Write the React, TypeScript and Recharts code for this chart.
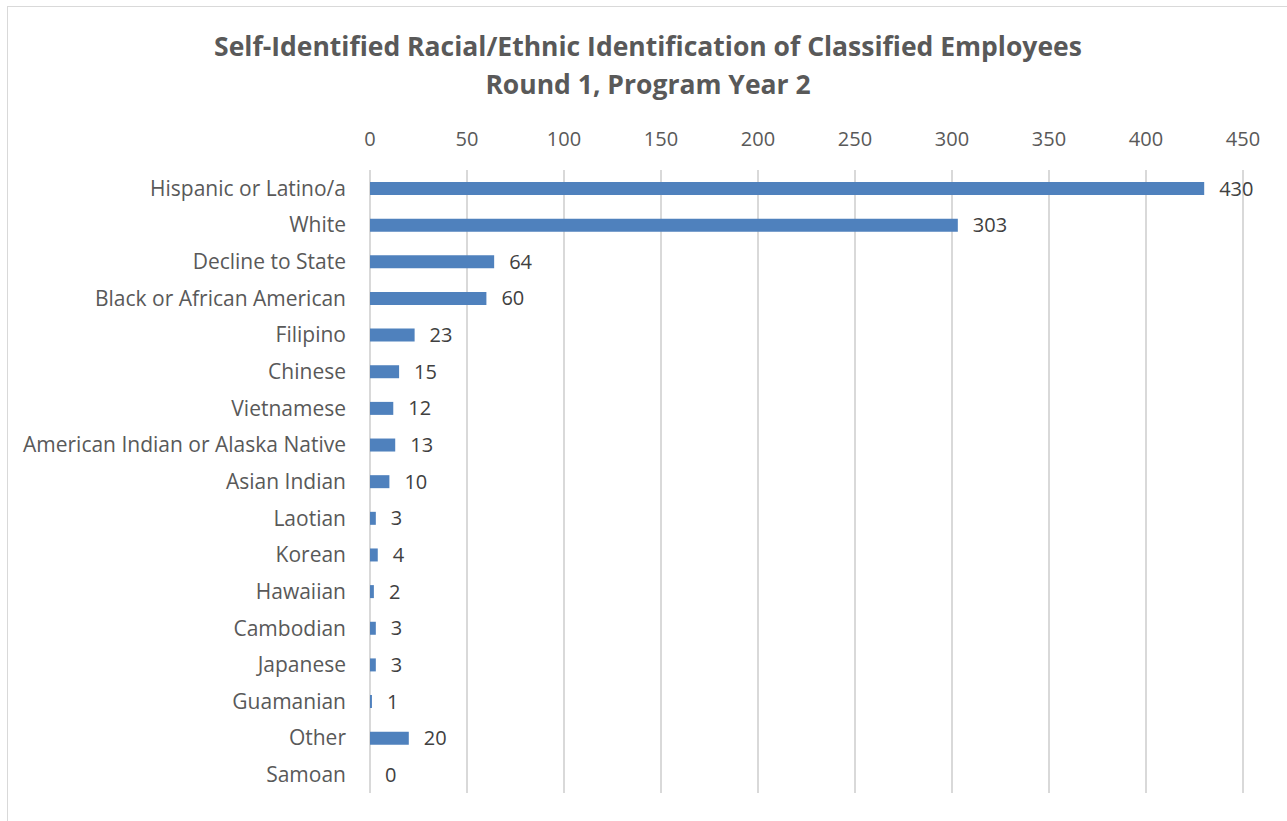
import { BarChart, Bar, XAxis, YAxis, CartesianGrid, LabelList } from "recharts";

// categories, top to bottom as in the source
const categories = [
  "Hispanic or Latino/a",
  "White",
  "Decline to State",
  "Black or African American",
  "Filipino",
  "Chinese",
  "Vietnamese",
  "American Indian or Alaska Native",
  "Asian Indian",
  "Laotian",
  "Korean",
  "Hawaiian",
  "Cambodian",
  "Japanese",
  "Guamanian",
  "Other",
  "Samoan",
];

const counts = [430, 303, 64, 60, 23, 15, 12, 13, 10, 3, 4, 2, 3, 3, 1, 20, 0];

const xTicks = [0, 50, 100, 150, 200, 250, 300, 350, 400, 450];

const titleLines = [
  "Self-Identified Racial/Ethnic Identification of Classified Employees",
  "Round 1, Program Year 2",
];

const FONT = "'Open Sans', sans-serif";

// value label drawn right of the bar end (also for zero-length bars)
const ValueLabel = (props: any) => {
  const { x, y, width, height, value } = props;
  const w = Number(width) >= 1 ? Number(width) : 0;
  const bx = Number(x) + w + 15;
  const by = Number(y) + Number(height) / 2;
  return (
    <text
      x={bx}
      y={by}
      dy="0.35em"
      fill="#404040"
      fontSize={20}
      fontFamily={FONT}
      textAnchor="start"
    >
      {String(value)}
    </text>
  );
};

const App = () => {
  const data = categories.map((name, i) => ({ name, value: counts[i] }));

  return (
    <div
      style={{
        position: "absolute",
        left: 0,
        top: 0,
        width: 1287,
        height: 821,
        background: "#fff",
        fontFamily: FONT,
      }}
    >
      {/* outer chart frame */}
      <div
        style={{
          position: "absolute",
          left: 7,
          top: 6,
          width: 1290,
          height: 830,
          border: "1px solid #d9d9d9",
        }}
      />
      <div
        style={{
          position: "absolute",
          left: 0,
          top: 27,
          width: 1296,
          textAlign: "center",
          color: "#595959",
          fontWeight: 700,
          fontSize: 26.5,
          lineHeight: "38px",
        }}
      >
        {titleLines.map((t) => (
          <div key={t}>{t}</div>
        ))}
      </div>
      <div style={{ position: "absolute", left: 0, top: 0 }}>
        <BarChart
          width={1287}
          height={821}
          data={data}
          layout="vertical"
          margin={{ top: 130, right: 44, bottom: 28, left: 0 }}
          barCategoryGap={12}
        >
          <CartesianGrid
            horizontal={false}
            vertical={true}
            stroke="#d9d9d9"
            strokeWidth={2}
          />
          <XAxis
            type="number"
            orientation="top"
            domain={[0, 450]}
            ticks={xTicks}
            axisLine={false}
            tickLine={false}
            height={40}
            tickMargin={18}
            tick={{ fill: "#595959", fontSize: 20, fontFamily: FONT }}
          />
          <YAxis
            type="category"
            dataKey="name"
            width={370}
            axisLine={false}
            tickLine={false}
            tickMargin={18}
            interval={0}
            tick={{ fill: "#595959", fontSize: 21, fontFamily: FONT }}
          />
          <Bar
            dataKey="value"
            fill="#4f81bd"
            barSize={13}
            minPointSize={(v: any) => (v === 0 ? 0.01 : 0)}
            isAnimationActive={false}
          >
            <LabelList dataKey="value" content={ValueLabel} />
          </Bar>
        </BarChart>
      </div>
    </div>
  );
};

export default App;
